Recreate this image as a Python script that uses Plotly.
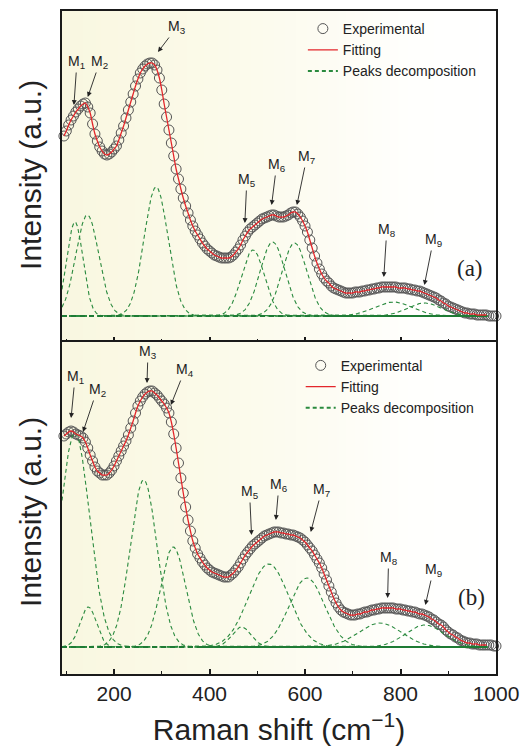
import numpy as np
import plotly.graph_objects as go
from plotly.subplots import make_subplots

# ---------------- data ----------------
raman_shift = list(range(95, 1001, 5))  # cm^-1

intensity_a = [
    180, 185, 191, 196, 200, 204, 207, 210, 212, 213,
    209, 203, 192, 182, 175, 169, 165, 162, 161, 162,
    164, 167, 170, 176, 183, 190, 198, 206, 214, 222,
    230, 237, 243, 247, 250, 252, 253, 253, 251, 246,
    238, 226, 212, 199, 186, 173, 160, 147, 137, 127,
    118, 110, 103, 96, 90, 85, 81, 77, 73, 70,
    67, 65, 63, 61, 60, 59, 58, 58, 58, 58,
    59, 61, 64, 67, 71, 76, 80, 84, 87, 89,
    91, 93, 95, 97, 98, 99, 100, 101, 101, 100,
    99, 99, 99, 100, 101, 103, 104, 104, 102, 99,
    95, 90, 84, 76, 68, 60, 53, 47, 42, 38,
    35, 33, 30, 28, 27, 26, 25, 24, 23, 23,
    23, 23, 24, 24, 24, 25, 25, 26, 26, 27,
    27, 28, 28, 29, 29, 29, 29, 29, 29, 29,
    28, 28, 28, 28, 27, 27, 26, 26, 25, 25,
    24, 23, 22, 21, 20, 19, 18, 16, 15, 13,
    12, 10, 9, 8, 7, 6, 5, 4, 3, 3,
    2, 2, 2, 1, 1, 1, 1, 1, 0, 0,
    0, 0,
]

intensity_b = [
    211, 213, 215, 216, 215, 213, 212, 211, 209, 205,
    199, 192, 186, 180, 176, 174, 172, 172, 172, 174,
    177, 181, 186, 191, 196, 201, 206, 212, 219, 226,
    234, 241, 246, 250, 253, 255, 256, 256, 254, 252,
    249, 246, 243, 239, 234, 225, 213, 199, 184, 169,
    154, 140, 127, 116, 106, 99, 93, 89, 85, 82,
    79, 77, 75, 74, 73, 72, 71, 70, 70, 70,
    72, 74, 77, 80, 84, 88, 92, 95, 98, 101,
    103, 105, 107, 109, 111, 112, 113, 114, 115, 115,
    115, 114, 114, 113, 113, 112, 112, 111, 110, 109,
    107, 105, 102, 99, 96, 92, 88, 84, 79, 73,
    67, 61, 55, 49, 44, 40, 37, 35, 34, 33,
    32, 32, 32, 33, 33, 34, 35, 35, 36, 37,
    37, 38, 38, 39, 39, 39, 39, 39, 39, 38,
    38, 38, 37, 37, 36, 36, 35, 35, 34, 33,
    33, 32, 31, 30, 28, 27, 25, 23, 22, 20,
    17, 15, 13, 12, 10, 9, 7, 6, 5, 4,
    4, 3, 3, 3, 2, 2, 2, 2, 2, 2,
    1, 1,
]

fit_max_shift = 980

# peak decomposition parameters (centre, height, width)
peak_center_a = [118, 144, 288, 491, 532, 578, 785, 850]
peak_height_a = [94, 101, 129, 66, 74, 73, 14, 13]
peak_width_a = [17, 24, 25, 24, 26, 26, 40, 35]

peak_center_b = [118, 146, 262, 324, 467, 524, 604, 757, 851]
peak_height_b = [214, 40, 167, 100, 20, 83, 69, 24, 22]
peak_width_b = [31, 17, 28, 26, 20, 42, 37, 45, 40]

# baseline of the decomposition: dashed part, then solid part
baseline_dash_a = ([91, 640], [0, 0])
baseline_solid_a = ([640, 982], [0, 0])
baseline_dash_b = ([91, 380], [0, 0])
baseline_solid_b = ([380, 982], [0, 0])

# mode labels: (text, shift, intensity, dx, dy)
labels_a = [
    ("M<sub>1</sub>", 116, 211, 3, -43),
    ("M<sub>2</sub>", 145, 219, 12, -35),
    ("M<sub>3</sub>", 292, 264, 19, -25),
    ("M<sub>5</sub>", 474, 93, 2, -43),
    ("M<sub>6</sub>", 530, 111, 5, -40),
    ("M<sub>7</sub>", 583, 111, 10, -48),
    ("M<sub>8</sub>", 765, 39, 3, -47),
    ("M<sub>9</sub>", 850, 31, 9, -45),
]
labels_b = [
    ("M<sub>1</sub>", 110, 229, 4, -41),
    ("M<sub>2</sub>", 135, 215, 14, -42),
    ("M<sub>3</sub>", 269, 264, 1, -31),
    ("M<sub>4</sub>", 319, 242, 14, -35),
    ("M<sub>5</sub>", 488, 112, -2, -43),
    ("M<sub>6</sub>", 539, 127, 3, -35),
    ("M<sub>7</sub>", 612, 115, 11, -42),
    ("M<sub>8</sub>", 773, 49, 1, -40),
    ("M<sub>9</sub>", 852, 42, 8, -35),
]

x_range = [91, 1000]
y_range_a = [-26, 305]
y_range_b = [-27, 305]

# ---------------- styles ----------------
FONT = "Liberation Sans, Arial, sans-serif"
SERIF = "Liberation Serif, Times New Roman, serif"
TXT = "#222222"
RED = "#E3262B"
GREEN = "#2A8A3E"
GREEN_BASE = "#1E7B34"
CIRCLE = "#555555"

fig = make_subplots(rows=2, cols=1, shared_xaxes=True, vertical_spacing=0)

# background gradient
bg_x = np.linspace(80, 1010, 80)
bg_z = [list(bg_x), list(bg_x)]
bg_scale = [[0.0, "#F9F7E0"], [0.35, "#FBFAE9"], [0.6, "#FDFCF3"],
            [0.8, "#FFFFFD"], [1.0, "#FFFFFF"]]

xs = np.array(raman_shift, dtype=float)
xpk = np.arange(91, 983, 1.0)


def add_panel(row, yvals, centers, heights, widths, base_dash, base_solid, legend_name):
    fig.add_trace(go.Heatmap(x=bg_x, y=[-40, 320], z=bg_z, colorscale=bg_scale,
                             zmin=80, zmax=1010, zsmooth="best", showscale=False,
                             hoverinfo="skip", showlegend=False),
                  row=row, col=1)
    fig.add_trace(go.Scatter(x=raman_shift, y=yvals, mode="markers",
                             name="Experimental", legend=legend_name,
                             cliponaxis=False,
                             marker=dict(symbol="circle", size=10,
                                         color="rgba(0,0,0,0)",
                                         line=dict(color=CIRCLE, width=1))),
                  row=row, col=1)
    for c, h, w in zip(centers, heights, widths):
        yp = h * np.exp(-((xpk - c) ** 2) / (2.0 * w ** 2))
        fig.add_trace(go.Scatter(x=xpk, y=yp, mode="lines",
                                 name="Peaks decomposition", legend=legend_name,
                                 showlegend=False,
                                 line=dict(color=GREEN, width=1.1, dash="4px,3px")),
                      row=row, col=1)
    fig.add_trace(go.Scatter(x=base_dash[0], y=base_dash[1], mode="lines", showlegend=False,
                             line=dict(color=GREEN_BASE, width=2, dash="5px,4px")),
                  row=row, col=1)
    fig.add_trace(go.Scatter(x=base_solid[0], y=base_solid[1], mode="lines", showlegend=False,
                             line=dict(color=GREEN_BASE, width=2)),
                  row=row, col=1)
    mask = xs <= fit_max_shift
    fig.add_trace(go.Scatter(x=xs[mask], y=np.array(yvals)[mask], mode="lines",
                             name="Fitting", legend=legend_name,
                             line=dict(color=RED, width=1.3, shape="spline")),
                  row=row, col=1)
    fig.add_trace(go.Scatter(x=[None], y=[None], mode="lines",
                             name="Peaks decomposition", legend=legend_name,
                             line=dict(color=GREEN, width=2, dash="4px,3px")),
                  row=row, col=1)


add_panel(1, intensity_a, peak_center_a, peak_height_a, peak_width_a,
          baseline_dash_a, baseline_solid_a, "legend")
add_panel(2, intensity_b, peak_center_b, peak_height_b, peak_width_b,
          baseline_dash_b, baseline_solid_b, "legend2")

annotations = []
for labels, xr, yr in ((labels_a, "x", "y"), (labels_b, "x2", "y2")):
    for text, xv, yv, dx, dy in labels:
        annotations.append(dict(x=xv, y=yv, xref=xr, yref=yr, text=text,
                                showarrow=True, ax=dx, ay=dy, arrowhead=2,
                                arrowsize=1.1, arrowwidth=0.9, arrowcolor=TXT,
                                font=dict(family=FONT, size=14, color=TXT)))
annotations.append(dict(x=945, y=48, xref="x", yref="y", text="(a)", showarrow=False,
                        font=dict(family=SERIF, size=23, color=TXT)))
annotations.append(dict(x=948, y=50, xref="x2", yref="y2", text="(b)", showarrow=False,
                        font=dict(family=SERIF, size=23, color=TXT)))

# y-axis titles (one per panel)
for ypos in (0.7526, 0.2443):
    annotations.append(dict(x=-0.074, y=ypos, xref="paper", yref="paper",
                            text="Intensity (a.u.)", textangle=-90, showarrow=False,
                            xanchor="center", yanchor="middle",
                            font=dict(family=FONT, size=30, color=TXT)))

split = 332 / 663.0

axis_common = dict(showline=True, linecolor="#1a1a1a", linewidth=2, mirror=True,
                   showgrid=False, zeroline=False, automargin=False)

fig.update_xaxes(range=x_range, ticks="inside", ticklen=5, tickwidth=1.6,
                 tickcolor="#1a1a1a", tick0=0, dtick=200,
                 minor=dict(ticks="inside", ticklen=3, tickwidth=1.2, dtick=100,
                            tick0=0, tickcolor="#1a1a1a"),
                 **axis_common)
fig.update_xaxes(showticklabels=False, row=1, col=1)
fig.update_xaxes(showticklabels=True, row=2, col=1,
                 tickfont=dict(family=FONT, size=21, color=TXT),
                 title=dict(text="Raman shift (cm<sup>−1</sup>)", standoff=18,
                            font=dict(family=FONT, size=30, color=TXT)))
fig.update_yaxes(ticks="", showticklabels=False, **axis_common)

fig.update_layout(
    width=524, height=746,
    margin=dict(l=62, r=28, t=11, b=72, autoexpand=False),
    paper_bgcolor="white", plot_bgcolor="white",
    annotations=annotations,
    yaxis=dict(domain=[split, 1.0], range=y_range_a),
    yaxis2=dict(domain=[0.0, split], range=y_range_b),
    legend=dict(x=0.555, y=0.997, xanchor="left", yanchor="top",
                bgcolor="rgba(0,0,0,0)", tracegroupgap=0, itemwidth=30,
                font=dict(family=FONT, size=14, color=TXT)),
    legend2=dict(x=0.550, y=0.489, xanchor="left", yanchor="top",
                 bgcolor="rgba(0,0,0,0)", tracegroupgap=0, itemwidth=30,
                 font=dict(family=FONT, size=14, color=TXT)),
    showlegend=True,
)

fig.write_html("out.html")
